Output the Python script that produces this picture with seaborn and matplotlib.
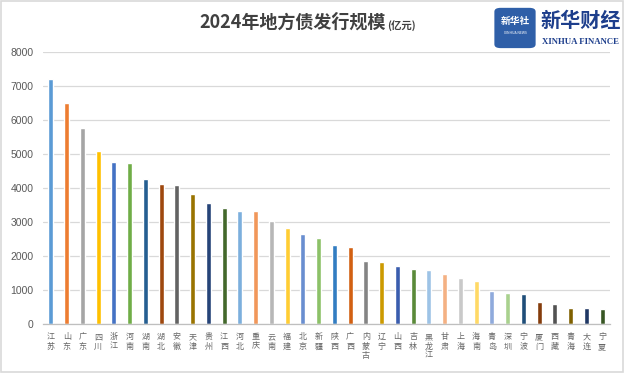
import seaborn as sns
import matplotlib.pyplot as plt
from matplotlib.patches import FancyBboxPatch, Rectangle

# 2024 local government bond issuance by region (100 million yuan)
regions = ["江苏", "山东", "广东", "四川", "浙江", "河南", "湖南", "湖北", "安徽",
           "天津", "贵州", "江西", "河北", "重庆", "云南", "福建", "北京", "新疆",
           "陕西", "广西", "内蒙古", "辽宁", "山西", "吉林", "黑龙江", "甘肃",
           "上海", "海南", "青岛", "深圳", "宁波", "厦门", "西藏", "青海", "大连", "宁夏"]
issuance = [7200, 6500, 5765, 5090, 4770, 4730, 4270, 4125, 4095,
            3830, 3565, 3420, 3330, 3330, 3040, 2835, 2655, 2540,
            2325, 2265, 1855, 1825, 1710, 1620, 1590, 1470,
            1355, 1270, 980, 920, 890, 650, 590, 475, 475, 445]
y_ticks = [0, 1000, 2000, 3000, 4000, 5000, 6000, 7000, 8000]

# excel-ish palette cycle
bar_colors = ["#5B9BD5", "#ED7D31", "#A5A5A5", "#FFC000", "#4472C4", "#70AD47",
              "#255E91", "#9E480E", "#636363", "#997300", "#264478", "#43682B",
              "#7CAFDD", "#F1975A", "#B7B7B7", "#FFCD33", "#698ED0", "#8CC168",
              "#327DC2", "#D26012", "#848484", "#CC9A00", "#3A5DAE", "#5A8A39",
              "#9DC3E6", "#F4B183", "#C9C9C9", "#FFD966", "#8FAADC", "#A9D18E",
              "#1F4E79", "#843C0C", "#525252", "#7F6000", "#203864", "#375623"]

sns.set_style("white")
plt.rcParams['font.family'] = ['Noto Sans CJK SC', 'DejaVu Sans']

fig = plt.figure(figsize=(6.25, 3.73), dpi=100)
ax = fig.add_axes([0.0688, 0.1314, 0.9072, 0.7292])

sns.barplot(x=regions, y=issuance, hue=regions, palette=bar_colors,
            width=0.32, legend=False, saturation=1, ax=ax)

ax.set_ylim(0, 8000)
ax.set_xlim(-0.5, len(regions) - 0.5)
ax.set_yticks(y_ticks)
ax.set_yticklabels([str(t) for t in y_ticks], family='Liberation Sans',
                   fontsize=7.5, color='#595959')
ax.set_xticks(range(len(regions)))
ax.set_xticklabels(['\n'.join(r) for r in regions], fontsize=5.8,
                   color='#666666', linespacing=1.05, va='top')
ax.tick_params(axis='x', length=0, pad=6)
ax.tick_params(axis='y', length=0, pad=7)
ax.yaxis.grid(True, color='#D9D9D9', linewidth=0.9)
ax.set_axisbelow(True)
for side in ['top', 'right', 'left']:
    ax.spines[side].set_visible(False)
ax.spines['bottom'].set_color('#BFBFBF')
ax.spines['bottom'].set_linewidth(0.9)
ax.set_xlabel('')
ax.set_ylabel('')

# title
fig.text(0.618, 0.941, "2024年地方债发行规模", ha='right', va='center',
         fontsize=13, fontweight='bold', color='#404040')
fig.text(0.619, 0.932, "(亿元)", ha='left', va='center',
         fontsize=7.5, fontweight='bold', color='#404040')

# logo
logo = FancyBboxPatch((0.795, 0.875), 0.058, 0.1, boxstyle="round,pad=0.004,rounding_size=0.01",
                      transform=fig.transFigure, facecolor='#2F5FA8', edgecolor='none')
fig.patches.append(logo)
fig.text(0.824, 0.945, "新华社", ha='center', va='center', fontsize=7,
         fontweight='bold', color='white')
fig.text(0.824, 0.912, "XINHUA NEWS", ha='center', va='center', fontsize=2.5,
         color='white')
fig.text(0.929, 0.945, "新华财经", ha='center', va='center', fontsize=14.5,
         fontweight='bold', color='#1D3E8C', style='italic')
fig.text(0.929, 0.888, "XINHUA FINANCE", ha='center', va='center', fontsize=6.3,
         fontweight='bold', color='#1D3E8C', family='Liberation Serif')

# thin frame around the picture
frame = Rectangle((0.002, 0.004), 0.994, 0.992, transform=fig.transFigure,
                  fill=False, edgecolor='#D9D9D9', linewidth=1.2)
fig.patches.append(frame)

fig.savefig('out.png', dpi=100)
